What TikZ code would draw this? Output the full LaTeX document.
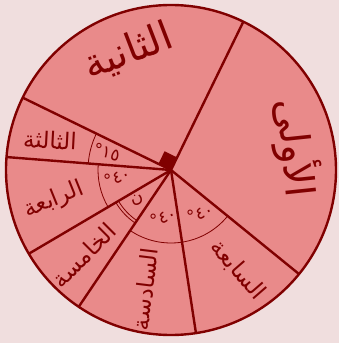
\documentclass[tikz,border=0pt]{standalone}
\usepackage{fontspec}
\usepackage{tikz}
\newfontfamily\arabicfont[Script=Arabic]{DejaVu Sans}
\TeXXeTstate=1
\definecolor{pieFill}{RGB}{233,138,138}
\definecolor{pieLine}{RGB}{128,0,0}
\definecolor{pageBg}{RGB}{240,222,222}

\begin{document}
\begin{tikzpicture}[x=1pt, y=1pt,
    edge/.style={draw=pieLine, line width=2.4pt},
    arcmark/.style={draw=pieLine, line width=0.8pt},
    word/.style={text=pieLine, inner sep=0pt, font=\arabicfont\fontsize{23}{23}\selectfont},
    bigword/.style={word, font=\arabicfont\fontsize{40}{40}\selectfont},
    anglabel/.style={text=pieLine, inner sep=0pt, font=\arabicfont\fontsize{17}{17}\selectfont}]

    \fill[pageBg] (-171,-173) rectangle (168,170);
    \useasboundingbox (-171,-173) rectangle (168,170);
    \coordinate (O) at (0,0);
    \fill[pieFill] (O) circle (165);

    % angle marks
    \draw[arcmark] (154:83) arc (154:175.5:83);
    \draw[arcmark] (175.5:73) arc (175.5:210.5:73);
    \draw[arcmark] (210.5:61) arc (210.5:236:61);
    \draw[arcmark] (210.5:64) arc (210.5:236:64);
    \draw[arcmark] (236:73) arc (236:278.7:73);
    \draw[arcmark] (278.7:73) arc (278.7:320.9:73);

    % radii and rim
    \foreach \a in {64,154,175.5,210.5,236,278.7,320.9}
        \draw[edge] (O) -- (\a:165);
    \draw[edge] (O) circle (165);
    \fill[pieLine] (O) -- (64:14) -- ++(154:14) -- (154:14) -- cycle;

    % sector names
    \node[bigword, rotate=-84] (first) at (125,22) {\beginR الأولى\endR};
    \node[bigword, rotate=21] (second) at (-43,118) {\beginR الثانية\endR};
    \node[word, rotate=-3] (third) at (-121,30) {\beginR الثالثة\endR};
    \node[word, rotate=22] (fourth) at (-117,-30) {\beginR الرابعة\endR};
    \node[word, rotate=45] (fifth) at (-87,-85) {\beginR الخامسة\endR};
    \node[word, rotate=83] (sixth) at (-26,-119) {\beginR السادسة\endR};
    \node[word, rotate=-49] (seventh) at (67,-100) {\beginR السابعة\endR};

    % angle values
    \node[anglabel, rotate=-15] (a15) at (-64,18) {١٥°};
    \node[anglabel, rotate=20] (a40d) at (-54,-7) {٤٠°};
    \node[anglabel, rotate=20] (ax) at (-34,-30) {ن};
    \node[anglabel, rotate=20] (a40f) at (-8,-47) {٤٠°};
    \node[anglabel, rotate=20] (a40s) at (29,-43) {٤٠°};
\end{tikzpicture}
\end{document}
